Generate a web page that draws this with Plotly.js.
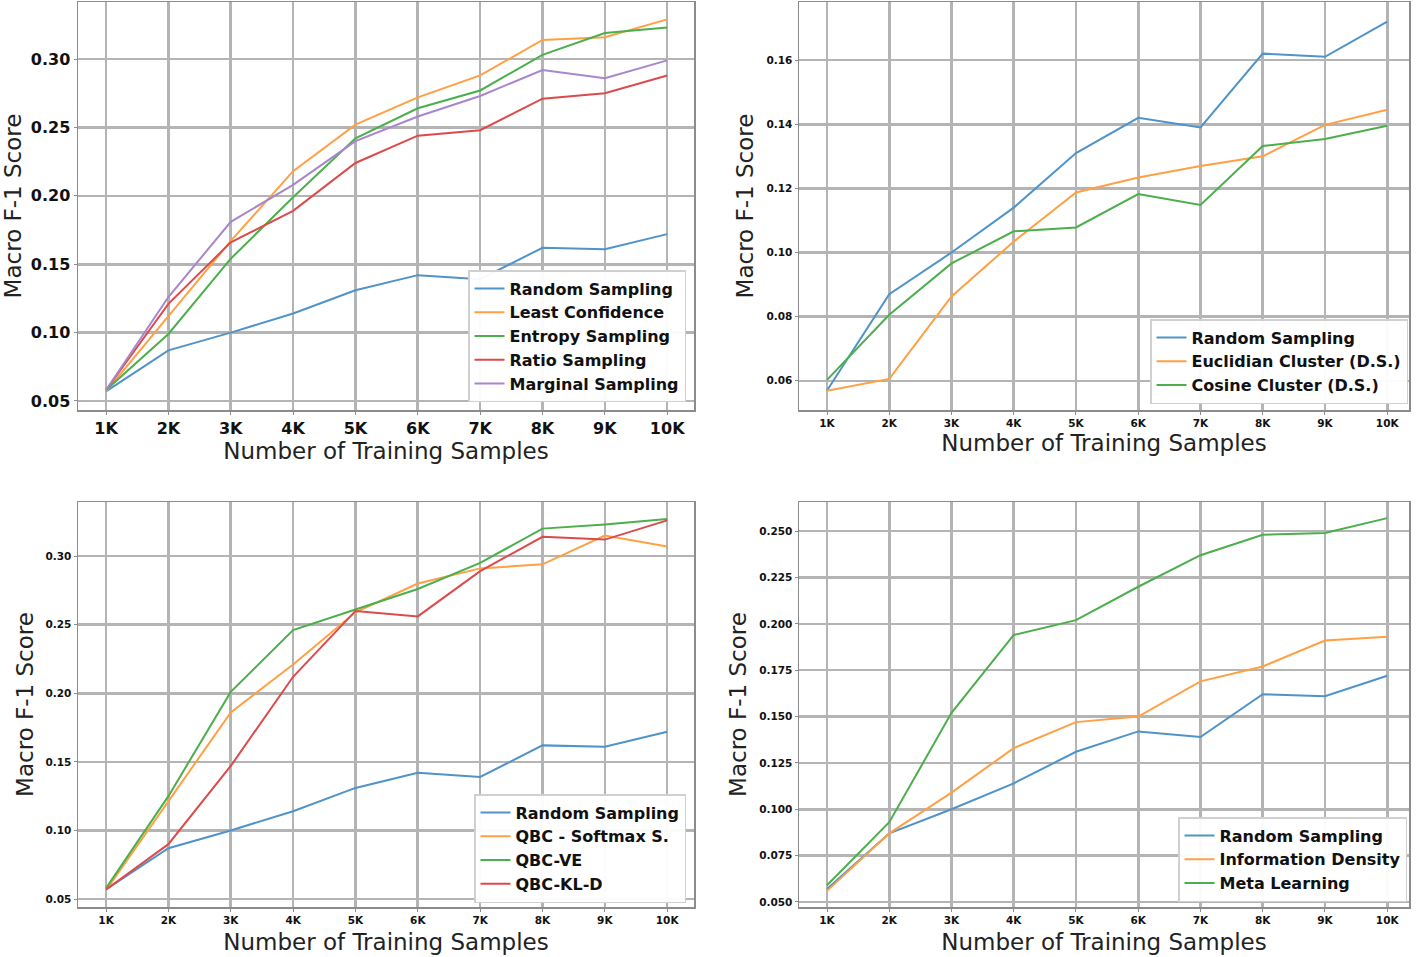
<!DOCTYPE html>
<html>
<head>
<meta charset="utf-8">
<script src="https://cdn.plot.ly/plotly-3.0.1.min.js"></script>
<style>
html,body{margin:0;padding:0;background:#fff;}
#chart{width:1416px;height:957px;}
</style>
</head>
<body>
<div id="chart"></div>
<script>
// ---- data ----
const samples = [1, 2, 3, 4, 5, 6, 7, 8, 9, 10];
const sampleLabels = ['1K', '2K', '3K', '4K', '5K', '6K', '7K', '8K', '9K', '10K'];

const randomSampling = [0.057, 0.087, 0.100, 0.114, 0.131, 0.142, 0.139, 0.162, 0.161, 0.172];

// Panel 1: uncertainty sampling
const leastConfidence = [0.057, 0.112, 0.167, 0.218, 0.252, 0.272, 0.288, 0.314, 0.316, 0.329];
const entropySampling = [0.058, 0.099, 0.154, 0.199, 0.242, 0.264, 0.277, 0.303, 0.319, 0.323];
const ratioSampling = [0.058, 0.121, 0.166, 0.189, 0.224, 0.244, 0.248, 0.271, 0.275, 0.288];
const marginalSampling = [0.058, 0.126, 0.181, 0.208, 0.240, 0.258, 0.273, 0.292, 0.286, 0.299];

// Panel 2: diversity sampling
const euclidianCluster = [0.0569, 0.0606, 0.0863, 0.1034, 0.1187, 0.1234, 0.1270, 0.1300, 0.1398, 0.1445];
const cosineCluster = [0.0603, 0.0806, 0.0966, 0.1066, 0.1078, 0.1182, 0.1148, 0.1332, 0.1354, 0.1395];

// Panel 3: query by committee
const qbcSoftmax = [0.0565, 0.121, 0.186, 0.221, 0.259, 0.280, 0.291, 0.294, 0.315, 0.307];
const qbcVE = [0.058, 0.125, 0.201, 0.246, 0.261, 0.276, 0.295, 0.320, 0.323, 0.327];
const qbcKLD = [0.057, 0.090, 0.147, 0.212, 0.260, 0.256, 0.289, 0.314, 0.312, 0.326];

// Panel 4: other strategies
const informationDensity = [0.056, 0.087, 0.109, 0.133, 0.147, 0.150, 0.169, 0.177, 0.191, 0.193];
const metaLearning = [0.059, 0.093, 0.152, 0.194, 0.202, 0.220, 0.237, 0.248, 0.249, 0.257];

const xTitle = 'Number of Training Samples';
const yTitle = 'Macro F-1 Score';

// ---- styling ----
const C = {blue:'#4f93c9', orange:'#ffa044', green:'#4cae4c', red:'#dc4a4b', purple:'#a886cc'};
const FONT = 'DejaVu Sans, sans-serif';
const BOLD = 'DejaVu Sans, sans-serif';

function tr(y, name, color, xa, ya, leg){
  return {x: samples, y: y, name: name, type:'scatter', mode:'lines',
          line:{color:color, width:2}, xaxis:xa, yaxis:ya, legend:leg};
}

const traces = [
  tr(randomSampling,'Random Sampling',C.blue,'x','y','legend'),
  tr(leastConfidence,'Least Confidence',C.orange,'x','y','legend'),
  tr(entropySampling,'Entropy Sampling',C.green,'x','y','legend'),
  tr(ratioSampling,'Ratio Sampling',C.red,'x','y','legend'),
  tr(marginalSampling,'Marginal Sampling',C.purple,'x','y','legend'),

  tr(randomSampling,'Random Sampling',C.blue,'x2','y2','legend2'),
  tr(euclidianCluster,'Euclidian Cluster (D.S.)',C.orange,'x2','y2','legend2'),
  tr(cosineCluster,'Cosine Cluster (D.S.)',C.green,'x2','y2','legend2'),

  tr(randomSampling,'Random Sampling',C.blue,'x3','y3','legend3'),
  tr(qbcSoftmax,'QBC - Softmax S.',C.orange,'x3','y3','legend3'),
  tr(qbcVE,'QBC-VE',C.green,'x3','y3','legend3'),
  tr(qbcKLD,'QBC-KL-D',C.red,'x3','y3','legend3'),

  tr(randomSampling,'Random Sampling',C.blue,'x4','y4','legend4'),
  tr(informationDensity,'Information Density',C.orange,'x4','y4','legend4'),
  tr(metaLearning,'Meta Learning',C.green,'x4','y4','legend4')
];

function xaxis(domain, anchor, range, tickSize, standoff){
  return {domain:domain, anchor:anchor, range:range,
    tickmode:'array', tickvals:samples, ticktext:sampleLabels,
    tickfont:{family:BOLD, size:tickSize, color:'#111', weight:'bold'},
    showgrid:true, gridcolor:'#b4b4b4', gridwidth:2.6,
    showline:true, linecolor:'#8c8c8c', linewidth:1.5, mirror:true,
    ticks:'outside', ticklen:3, tickcolor:'#8c8c8c', tickwidth:1,
    zeroline:false, automargin:false,
    title:{text:xTitle, font:{family:FONT, size:23, color:'#222'}, standoff:standoff}};
}
function yaxis(domain, anchor, range, dtick, fmt, tickSize, standoff){
  return {domain:domain, anchor:anchor, range:range, dtick:dtick, tick0:0, tickformat:fmt,
    tickfont:{family:BOLD, size:tickSize, color:'#111', weight:'bold'},
    showgrid:true, gridcolor:'#b4b4b4', gridwidth:2.6,
    showline:true, linecolor:'#8c8c8c', linewidth:1.5, mirror:true,
    ticks:'outside', ticklen:3, tickcolor:'#8c8c8c', tickwidth:1,
    zeroline:false, automargin:false,
    title:{text:yTitle, font:{family:FONT, size:23, color:'#222'}, standoff:standoff}};
}
function legend(x, y){
  return {x:x, y:y, xanchor:'right', yanchor:'bottom', xref:'paper', yref:'paper',
    bgcolor:'rgba(255,255,255,0.95)', bordercolor:'#d0d0d0', borderwidth:1.5,
    font:{family:BOLD, size:16, color:'#111', weight:'bold'},
    itemwidth:30, tracegroupgap:0};
}

const xL = [78/1416, 694/1416], xR = [799/1416, 1409/1416];
const yT = [1-410/957, 1-2/957], yB = [1-907/957, 1-502/957];

const layout = {
  width:1416, height:957,
  margin:{l:0, r:0, t:0, b:0},
  paper_bgcolor:'#fff', plot_bgcolor:'#fff',
  showlegend:true,
  xaxis: xaxis(xL,'y',[0.55,10.43],16,0),
  yaxis: yaxis(yT,'x',[0.0434,0.3417],0.05,'.2f',16,8),
  xaxis2: xaxis(xR,'y2',[0.55,10.35],10.5,7),
  yaxis2: yaxis(yT,'x2',[0.0509,0.1781],0.02,'.2f',10.5,6),
  xaxis3: xaxis(xL,'y3',[0.55,10.43],10.5,9),
  yaxis3: yaxis(yB,'x3',[0.0442,0.3394],0.05,'.2f',10.5,5),
  xaxis4: xaxis(xR,'y4',[0.55,10.35],10.5,9),
  yaxis4: yaxis(yB,'x4',[0.0473,0.2657],0.025,'.3f',10.5,6),
  legend: legend(686/1416, 1-402/957),
  legend2: legend(1408/1416, 1-404/957),
  legend3: legend(686/1416, 1-903/957),
  legend4: legend(1407/1416, 1-902/957)
};

Plotly.newPlot('chart', traces, layout, {staticPlot:true, displayModeBar:false});
</script>
</body>
</html>
